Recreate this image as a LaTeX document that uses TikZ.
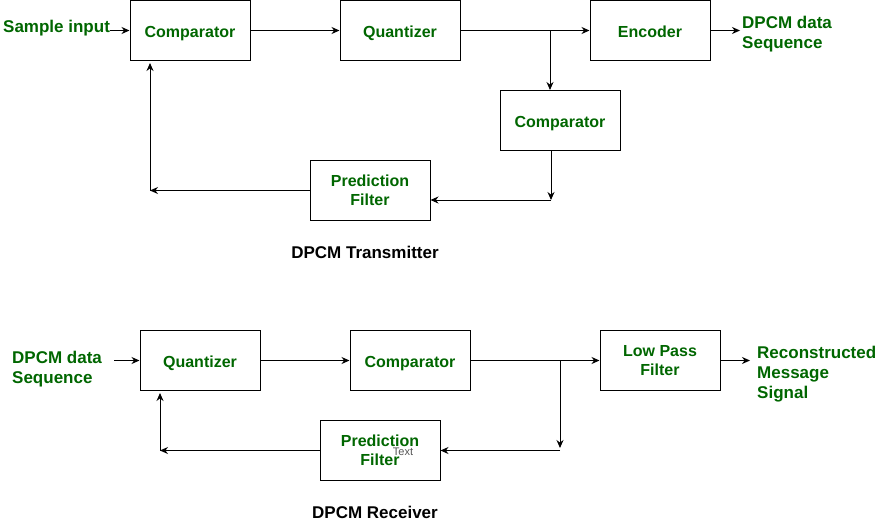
\documentclass[tikz,border=0pt]{standalone}
\usepackage{fontspec}
\setmainfont{Liberation Sans}
\usetikzlibrary{arrows.meta}
\definecolor{lbl}{HTML}{006600}
\definecolor{stray}{HTML}{555555}
\begin{document}
\begin{tikzpicture}[x=1pt,y=-1pt,
 blk/.style={draw, line width=1pt, minimum width=120pt, minimum height=60pt, inner sep=0pt,
   font=\fontsize{16}{19}\selectfont\bfseries, text=lbl, align=center},
 one/.style={text height=13pt, text depth=0pt},
 arr/.style={line width=1pt, -{Stealth[length=8pt,width=7pt]}},
 lbltxt/.style={font=\fontsize{17}{20}\selectfont\bfseries, text=lbl, align=left, inner sep=0pt, anchor=west},
 ttl/.style={font=\fontsize{17}{20}\selectfont\bfseries, text=black, inner sep=0pt}]
\useasboundingbox (0,0) rectangle (886,522);
% ---------- Transmitter ----------
\node[blk,one] (c1) at (190,30.5) {Comparator};
\node[blk,one] (q1) at (400,30.5) {Quantizer};
\node[blk,one] (enc) at (650,30.5) {Encoder};
\node[blk,one] (c2) at (560,120.5) {Comparator};
\node[blk] (pf1) at (370,190.5) {Prediction\\Filter};
\node[lbltxt] (sin) at (3,28.5) {Sample input};
\node[lbltxt] (dout) at (742,34) {DPCM data\\Sequence};
\node[ttl] (t1) at (365,252) {DPCM Transmitter};
\coordinate (b1) at (550,30.5);
\coordinate (b2) at (551,200);
\coordinate (b3) at (150,190.5);
\coordinate (b4) at (150,63);
\draw[arr] (sin.east |- c1.west) -- (c1.west);
\draw[arr] (c1) -- (q1);
\draw[arr] (q1) -- (enc);
\draw[arr] (b1) -- (b1 |- c2.north);
\draw[arr] (b2 |- c2.south) -- (b2);
\draw[arr] (b2) -- (pf1.east |- b2);
\draw[arr] (pf1.west) -- (b3);
\draw[arr] (b3) -- (b4);
\draw[arr] (enc.east) -- ([xshift=-2pt]dout.west |- enc.east);
% ---------- Receiver ----------
\node[blk,one] (q2) at (200,360.5) {Quantizer};
\node[blk,one] (c3) at (410,360.5) {Comparator};
\node[blk] (lpf) at (660,360.5) {Low Pass\\Filter};
\node[blk] (pf2) at (380,450.5) {Prediction\\Filter};
\node[font=\fontsize{11}{13}\selectfont, text=stray, inner sep=0pt] (str) at (403,452) {Text};
\node[lbltxt] (din) at (12,369) {DPCM data\\Sequence};
\node[lbltxt] (rout) at (757,374) {Reconstructed\\Message\\Signal};
\node[ttl] (t2) at (375,512) {DPCM Receiver};
\coordinate (b5) at (560,360.5);
\coordinate (b6) at (560,448);
\coordinate (b7) at (160,450.5);
\coordinate (b8) at (160,393);
\draw[arr] ([xshift=12pt]din.east |- q2.west) -- (q2.west);
\draw[arr] (q2) -- (c3);
\draw[arr] (c3) -- (lpf);
\draw[arr] (b5) -- (b6);
\draw[arr] (b5 |- pf2.east) -- (pf2.east);
\draw[arr] (pf2.west) -- (b7);
\draw[arr] (b7) -- (b8);
\draw[arr] (lpf.east) -- ([xshift=-7pt]rout.west |- lpf.east);
\end{tikzpicture}
\end{document}
